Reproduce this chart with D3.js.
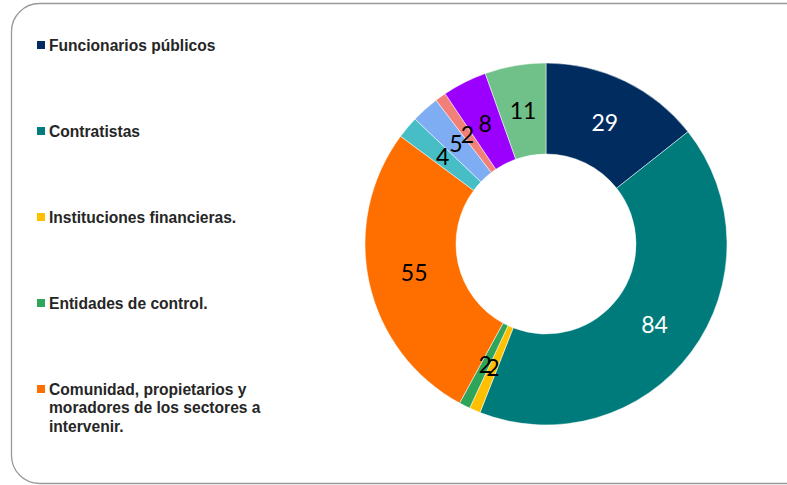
<!DOCTYPE html>
<html><head><meta charset="utf-8">
<script src="https://cdn.jsdelivr.net/npm/d3@7"></script>
<style>
html,body{margin:0;padding:0;background:#fff;}
svg{display:block;}
</style></head>
<body>
<svg id="chart" width="787" height="485"></svg>
<script>
// Data
const categories = ["Funcionarios públicos","Contratistas","Instituciones financieras.","Entidades de control.","Comunidad, propietarios y moradores de los sectores a intervenir.","Otros 1","Otros 2","Otros 3","Otros 4","Otros 5"];
const values = [29, 84, 2, 2, 55, 4, 5, 2, 8, 11];
const colors = ["#002C5F","#007B7B","#FFC000","#2FA55A","#FF6F00","#47BEC6","#7FADF4","#F08078","#9B00FF","#70C189"];
const labelColors = ["#fff","#fff","#000","#000","#000","#000","#000","#000","#000","#000"];
const legendItems = [0,1,2,3,4];
const legendLines = [["Funcionarios públicos"],["Contratistas"],["Instituciones financieras."],["Entidades de control."],["Comunidad, propietarios y","moradores de los sectores a","intervenir."]];

const svg = d3.select("#chart");

// frame
svg.append("rect").attr("x",11.5).attr("y",3.5).attr("width",805).attr("height",480)
  .attr("rx",28).attr("ry",28).attr("fill","none").attr("stroke","#999").attr("stroke-width",1.3);

const cx = 546, cy = 244, rOuter = 181, rInner = 90;
const pie = d3.pie().sort(null).value(d => d)(values);
const arc = d3.arc().innerRadius(rInner).outerRadius(rOuter);
const labelArc = d3.arc().innerRadius(135).outerRadius(135);

const g = svg.append("g").attr("transform", `translate(${cx},${cy})`);
g.selectAll("path.slice").data(pie).join("path")
  .attr("class","slice")
  .attr("d", arc)
  .attr("fill", (d,i) => colors[i])
  .attr("stroke","#fff").attr("stroke-width",0.5);

g.selectAll("text.lbl").data(pie).join("text")
  .attr("class","lbl")
  .attr("transform", d => `translate(${labelArc.centroid(d)})`)
  .attr("text-anchor","middle")
  .attr("dy","0.36em")
  .attr("font-family","Lato, 'Open Sans', sans-serif")
  .attr("font-size", 23)
  .attr("fill", (d,i) => labelColors[i])
  .text(d => d.data);

// legend
const legendY = d3.scalePoint().domain(legendItems).range([45, 389]);
const lg = svg.append("g");
legendItems.forEach(i => {
  const y = legendY(i);
  lg.append("rect").attr("x",37).attr("y",y-4).attr("width",8).attr("height",8).attr("fill",colors[i]);
  const t = lg.append("text").attr("x",49).attr("y",y+5.5)
    .attr("font-family","'Liberation Sans', Arial, sans-serif")
    .attr("font-weight","bold").attr("font-size",15.6).attr("fill","#262626");
  legendLines[i].forEach((ln,k) => {
    t.append("tspan").attr("x",49).attr("dy", k===0 ? 0 : 18.5).text(ln);
  });
});
</script>
</body></html>
